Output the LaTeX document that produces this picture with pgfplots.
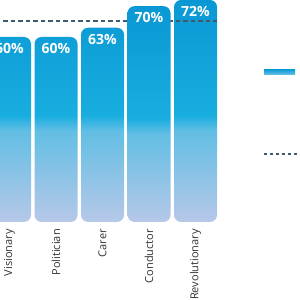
\documentclass[border=0pt]{standalone}
\usepackage{pgfplots}
\pgfplotsset{compat=1.18}
\usepackage{fontspec}
\setmainfont{Open Sans}
\definecolor{bartop}{HTML}{0A98D4}
\definecolor{barmid}{HTML}{18ADDF}
\definecolor{barlight}{HTML}{62BEE4}
\definecolor{barbot}{HTML}{B7C8E8}
\definecolor{avgline}{HTML}{3E5B6B}
\definecolor{labeltext}{HTML}{333333}
\pgfdeclareverticalshading{barshade}{100bp}{color(0bp)=(barbot); color(25bp)=(barbot); color(45.5bp)=(barlight); color(49bp)=(barmid); color(75bp)=(bartop); color(100bp)=(bartop)}
\begin{document}
\begin{tikzpicture}
\begin{axis}[
  scale only axis, width=300pt, height=222pt,
  xmin=-0.2043, xmax=6.247, ymin=0, ymax=72,
  axis line style={draw=none}, tick style={draw=none},
  ytick=\empty,
  xtick={0,1,2,3,4},
  xticklabels={Visionary,Politician,Carer,Conductor,Revolutionary},
  xticklabel style={rotate=90, anchor=east, inner sep=0pt, font=\fontsize{11}{13}\selectfont, text=labeltext},
  xticklabel shift=7pt,
  /pgf/number format/assume math mode=true,
  legend style={at={(rel axis cs:0.877,0.69)}, anchor=north west, draw=none, fill=none, inner sep=0pt, row sep=77pt, font=\fontsize{10}{12}\selectfont},
  legend cell align=left,
]
\addplot[ybar, bar width=43pt, bar shift=0pt, draw=none, shade, shading=barshade, rounded corners=7pt,
  nodes near coords={\pgfmathprintnumber{\pgfplotspointmeta}\%},
  every node near coord/.append style={anchor=north, inner sep=0pt, yshift=-6pt, text=white, font=\bfseries\fontsize{14}{16}\selectfont},
  legend image code/.code={\shade[sharp corners, top color=bartop, bottom color=barlight] (0pt,-2.5pt) rectangle (31pt,2.5pt);}]
  coordinates {(0,60) (1,60) (2,63) (4,72)};
\addlegendentry{\mbox{}}
\addplot[avgline, line width=1.8pt, dash pattern=on 4.5pt off 3pt,
  legend image code/.code={\draw[avgline, line width=1.6pt, dash pattern=on 3pt off 3pt] (0pt,0pt) -- (34pt,0pt);}]
  coordinates {(-0.3,65.2) (4.46,65.2)};
\addlegendentry{\mbox{}}
\addplot[ybar, bar width=43pt, bar shift=0pt, draw=none, shade, shading=barshade, rounded corners=7pt, forget plot,
  nodes near coords={\pgfmathprintnumber{\pgfplotspointmeta}\%},
  every node near coord/.append style={anchor=north, inner sep=0pt, yshift=-6pt, text=white, font=\bfseries\fontsize{14}{16}\selectfont}]
  coordinates {(3,70)};
\end{axis}
\pgfresetboundingbox
\path[use as bounding box] (current axis.south west) ++(0,-78pt) rectangle (current axis.north east);
\end{tikzpicture}
\end{document}
